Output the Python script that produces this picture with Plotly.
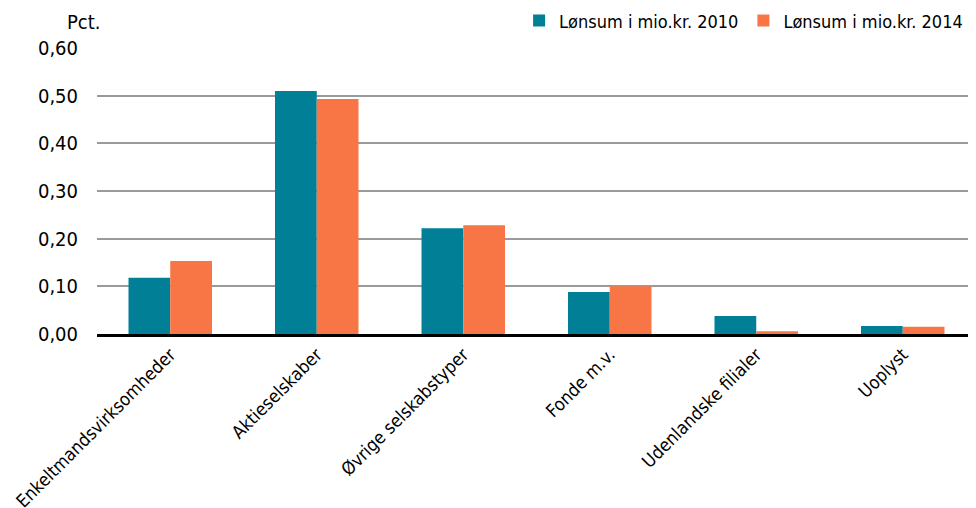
import plotly.graph_objects as go

categories = ["Enkeltmandsvirksomheder", "Aktieselskaber", "Øvrige selskabstyper",
              "Fonde m.v.", "Udenlandske filialer", "Uoplyst"]
values_2010 = [0.118, 0.510, 0.222, 0.088, 0.038, 0.017]
values_2014 = [0.153, 0.493, 0.228, 0.100, 0.006, 0.015]
series_names = ["Lønsum i mio.kr. 2010", "Lønsum i mio.kr. 2014"]
y_ticks = [0.0, 0.1, 0.2, 0.3, 0.4, 0.5, 0.6]
y_tick_labels = ["0,00", "0,10", "0,20", "0,30", "0,40", "0,50", "0,60"]

FONT = "DejaVu Sans Condensed, Liberation Sans Narrow, sans-serif"

fig = go.Figure()
fig.add_trace(go.Bar(x=categories, y=values_2010, name=series_names[0],
                     marker=dict(color="#007f97", line=dict(width=0))))
fig.add_trace(go.Bar(x=categories, y=values_2014, name=series_names[1],
                     marker=dict(color="#f87646", line=dict(width=0))))

# page body adds an 8px offset, so the figure is 968x500
fig.update_layout(
    width=968, height=500,
    margin=dict(l=89, r=0, t=40, b=174, autoexpand=False),
    plot_bgcolor="white", paper_bgcolor="white",
    font=dict(family=FONT, color="black", size=18),
    barmode="group", bargap=0.43, bargroupgap=0,
    legend=dict(orientation="h", x=0.991, xanchor="right", y=1.095, yanchor="middle",
                font=dict(size=18), traceorder="normal",
                bgcolor="rgba(0,0,0,0)"),
    showlegend=True,
)
fig.update_yaxes(range=[0, 0.6], tickvals=y_ticks, ticktext=y_tick_labels,
                 showgrid=True, gridcolor="#9a9a9a", gridwidth=2,
                 zeroline=False, showline=False, ticks="", ticklen=0,
                 tickfont=dict(size=20), ticklabelstandoff=18, automargin=False)
fig.update_xaxes(tickangle=-45, showline=True, linecolor="black", linewidth=3,
                 ticks="", tickfont=dict(size=18), automargin=False)
fig.add_annotation(text="Pct.", xref="paper", yref="paper", x=0, y=1,
                   xanchor="right", yanchor="bottom", showarrow=False,
                   xshift=6, yshift=12, font=dict(size=20))

fig.write_html("out.html")
